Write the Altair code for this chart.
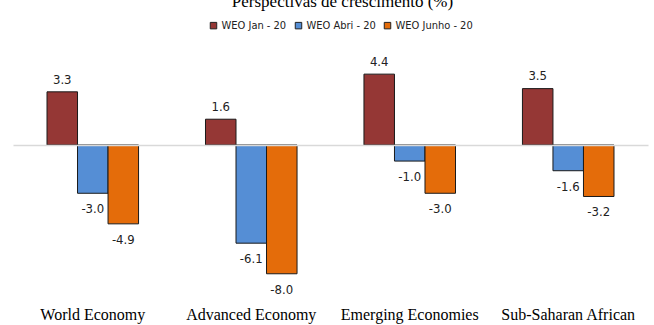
import altair as alt
import pandas as pd

categories = ["World Economy", "Advanced Economy", "Emerging Economies", "Sub-Saharan African"]
series = ["WEO Jan - 20", "WEO Abri - 20", "WEO Junho - 20"]
jan = [3.3, 1.6, 4.4, 3.5]
abr = [-3.0, -6.1, -1.0, -1.6]
jun = [-4.9, -8.0, -3.0, -3.2]
colors = ["#953735", "#558ED5", "#E46C0A"]
title_text = "Perspectivas de crescimento (%)"

rows = []
for s, vals in zip(series, [jan, abr, jun]):
    for c, v in zip(categories, vals):
        rows.append({"category": c, "series": s, "value": v})
df = pd.DataFrame(rows)

NARROW = "Liberation Sans Narrow, DejaVu Sans Condensed, Arial Narrow, Liberation Sans, Arial, sans-serif"
SERIF = "Liberation Serif, Times New Roman, serif"

x = alt.X(
    "category:N",
    sort=categories,
    scale=alt.Scale(paddingInner=0.4223, paddingOuter=0.2146),
    axis=alt.Axis(
        title=None, labelAngle=0, domain=False, ticks=False, tickSize=0,
        labelPadding=1, labelFont=SERIF, labelFontSize=16, labelColor="black",
    ),
)
xo = alt.XOffset("series:N", sort=series)
y = alt.Y(
    "value:Q",
    scale=alt.Scale(domain=[-9.94, 6.52], nice=False),
    axis=alt.Axis(
        values=[0], grid=True, gridColor="#d9d9d9", gridWidth=1.5, labels=False,
        ticks=False, domain=False, title=None, zindex=1,
    ),
)

bars = alt.Chart(df).mark_bar(stroke="#1a1a1a", strokeWidth=1).encode(
    x=x, xOffset=xo, y=y,
    color=alt.Color(
        "series:N", sort=series,
        scale=alt.Scale(domain=series, range=colors),
        legend=alt.Legend(
            title=None, orient="none", legendX=195, legendY=-20, direction="horizontal",
            symbolType="square", symbolSize=42, symbolStrokeColor="#222", symbolStrokeWidth=1,
            labelFont=NARROW, labelFontSize=11, labelColor="#222", columnPadding=6,
            labelOffset=2.5, padding=0,
        ),
    ),
)

label_expr = "replace(format(datum.value, '.1f'), '\u2212', '-')"

pos = alt.Chart(df).transform_filter("datum.value >= 0").transform_calculate(
    lbl=label_expr
).mark_text(
    baseline="alphabetic", dy=-8.3, font=NARROW, fontSize=13, color="#222"
).encode(x=x, xOffset=xo, y=y, text="lbl:N")

neg = alt.Chart(df).transform_filter("datum.value < 0").transform_calculate(
    lbl=label_expr
).mark_text(
    baseline="alphabetic", dy=20, font=NARROW, fontSize=13, color="#222"
).encode(x=x, xOffset=xo, y=y, text="lbl:N")

chart = alt.layer(bars, pos, neg).properties(
    width=635, height=265,
    padding={"left": 13, "top": 40, "right": 6, "bottom": 20},
    autosize="none",
    title=alt.TitleParams(
        title_text, font=SERIF, fontSize=17, fontWeight="normal", color="black",
        anchor="middle", frame="group", dx=12, baseline="alphabetic", offset=-4,
    ),
).configure_view(stroke=None)

chart.save("out.html", embed_options={"renderer": "svg", "actions": False})
